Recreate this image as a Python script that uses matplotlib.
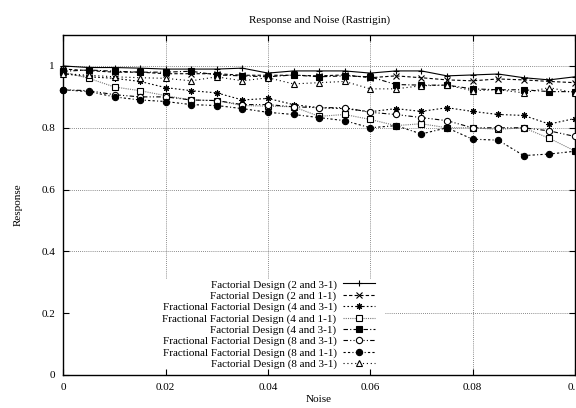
import matplotlib
matplotlib.use("Agg")
import matplotlib.pyplot as plt
from matplotlib.ticker import FuncFormatter

plt.rcParams['font.family'] = ['Liberation Serif', 'DejaVu Serif']

noise = [0.0, 0.005, 0.01, 0.015, 0.02, 0.025, 0.03, 0.035, 0.04, 0.045, 0.05,
         0.055, 0.06, 0.065, 0.07, 0.075, 0.08, 0.085, 0.09, 0.095, 0.1]

fd_2_31 = [1.0, 0.995, 0.995, 0.993, 0.99, 0.99, 0.99, 0.993, 0.977, 0.984, 0.984,
           0.984, 0.977, 0.984, 0.984, 0.968, 0.971, 0.974, 0.962, 0.955, 0.965]
fd_2_11 = [0.99, 0.985, 0.98, 0.98, 0.975, 0.975, 0.975, 0.97, 0.97, 0.97, 0.968,
           0.971, 0.962, 0.968, 0.962, 0.955, 0.952, 0.958, 0.955, 0.95, 0.946]
ffd_4_31 = [0.975, 0.965, 0.96, 0.95, 0.93, 0.92, 0.913, 0.89, 0.895, 0.875, 0.865,
            0.862, 0.852, 0.862, 0.853, 0.865, 0.853, 0.843, 0.84, 0.812, 0.83]
ffd_4_11 = [0.98, 0.96, 0.932, 0.92, 0.904, 0.89, 0.888, 0.872, 0.87, 0.868, 0.837,
            0.843, 0.827, 0.807, 0.813, 0.8, 0.8, 0.795, 0.8, 0.766, 0.725]
fd_4_31 = [0.983, 0.987, 0.983, 0.98, 0.98, 0.983, 0.971, 0.968, 0.965, 0.971, 0.965,
           0.968, 0.965, 0.94, 0.938, 0.938, 0.926, 0.923, 0.923, 0.917, 0.917]
ffd_8_31 = [0.923, 0.92, 0.907, 0.9, 0.9, 0.89, 0.888, 0.875, 0.875, 0.868, 0.865,
            0.865, 0.85, 0.843, 0.833, 0.823, 0.8, 0.8, 0.8, 0.79, 0.772]
ffd_8_11 = [0.923, 0.917, 0.9, 0.89, 0.885, 0.875, 0.872, 0.862, 0.85, 0.843, 0.833,
            0.823, 0.8, 0.807, 0.78, 0.8, 0.763, 0.76, 0.71, 0.715, 0.724]
fd_8_31 = [0.975, 0.97, 0.965, 0.962, 0.96, 0.952, 0.965, 0.952, 0.962, 0.942, 0.946,
           0.95, 0.926, 0.926, 0.936, 0.938, 0.92, 0.923, 0.913, 0.93, 0.913]

labels = ["Factorial Design (2 and 3-1)",
          "Factorial Design (2 and 1-1)",
          "Fractional Factorial Design (4 and 3-1)",
          "Fractional Factorial Design (4 and 1-1)",
          "Factorial Design (4 and 3-1)",
          "Fractional Factorial Design (8 and 3-1)",
          "Fractional Factorial Design (8 and 1-1)",
          "Factorial Design (8 and 3-1)"]

x_ticks = [0, 0.02, 0.04, 0.06, 0.08, 0.1]
y_ticks = [0, 0.2, 0.4, 0.6, 0.8, 1.0]

# gnuplot-ish line types: (linestyle, marker, facecolor, color)
styles = [
    ('-', '+', 'black', 'black'),
    ((0, (3, 2)), 'x', 'black', 'black'),
    ((0, (1.5, 2)), (8, 2, 0), 'black', 'black'),
    ((0, (1, 1)), 's', 'white', '#777777'),
    ((0, (4, 2, 1, 2)), 's', 'black', 'black'),
    ((0, (4, 2, 1, 2, 1, 2)), 'o', 'white', 'black'),
    ((0, (2, 2, 2, 2, 1, 2)), 'o', 'black', 'black'),
    ((0, (1, 2.5)), '^', 'white', 'black'),
]
series = [fd_2_31, fd_2_11, ffd_4_31, ffd_4_11, fd_4_31, ffd_8_31, ffd_8_11, fd_8_31]

fig = plt.figure(figsize=(5.76, 4.08), dpi=100)
ax = fig.add_axes([0.110, 0.081, 0.888, 0.833])

ax.set_xlim(0, 0.1)
ax.set_ylim(0, 1.1)

# grid, kept clear of the key box in the lower left
key_right = 0.0628
key_top = 0.314
grid_kw = dict(color='#666666', lw=0.6, ls=(0, (1, 1.5)), zorder=1)
for xv in x_ticks[1:-1]:
    y0 = 0 if xv > key_right else key_top
    ax.plot([xv, xv], [y0, 1.1], **grid_kw)
for yv in y_ticks[1:]:
    x0 = key_right if yv < key_top else 0
    ax.plot([x0, 0.1], [yv, yv], **grid_kw)

for ys, lab, (ls, mk, fc, col) in zip(series, labels, styles):
    ax.plot(noise, ys, ls=ls, lw=0.8, color=col, marker=mk, markersize=4.5,
            markerfacecolor=fc, markeredgecolor='black', markeredgewidth=0.8,
            label=lab, zorder=3, clip_on=False)

fmt = FuncFormatter(lambda v, p: '%g' % v)
ax.set_xticks(x_ticks)
ax.set_yticks(y_ticks)
ax.xaxis.set_major_formatter(fmt)
ax.yaxis.set_major_formatter(fmt)
ax.tick_params(direction='in', length=4, width=0.8, top=True, right=True,
               labelsize=8, pad=6)
for sp in ax.spines.values():
    sp.set_linewidth(1.0)

ax.set_title("Response and Noise (Rastrigin)", fontsize=8, pad=9)
ax.set_xlabel("Noise", fontsize=8, labelpad=2)
ax.set_ylabel("Response", fontsize=8, labelpad=13)

leg = ax.legend(loc='lower left', bbox_to_anchor=(0.185, 0.004), frameon=False,
                markerfirst=False, fontsize=8, handlelength=2.9,
                labelspacing=0.12, handletextpad=0.6, borderaxespad=0)

fig.savefig("out.png", dpi=100)
